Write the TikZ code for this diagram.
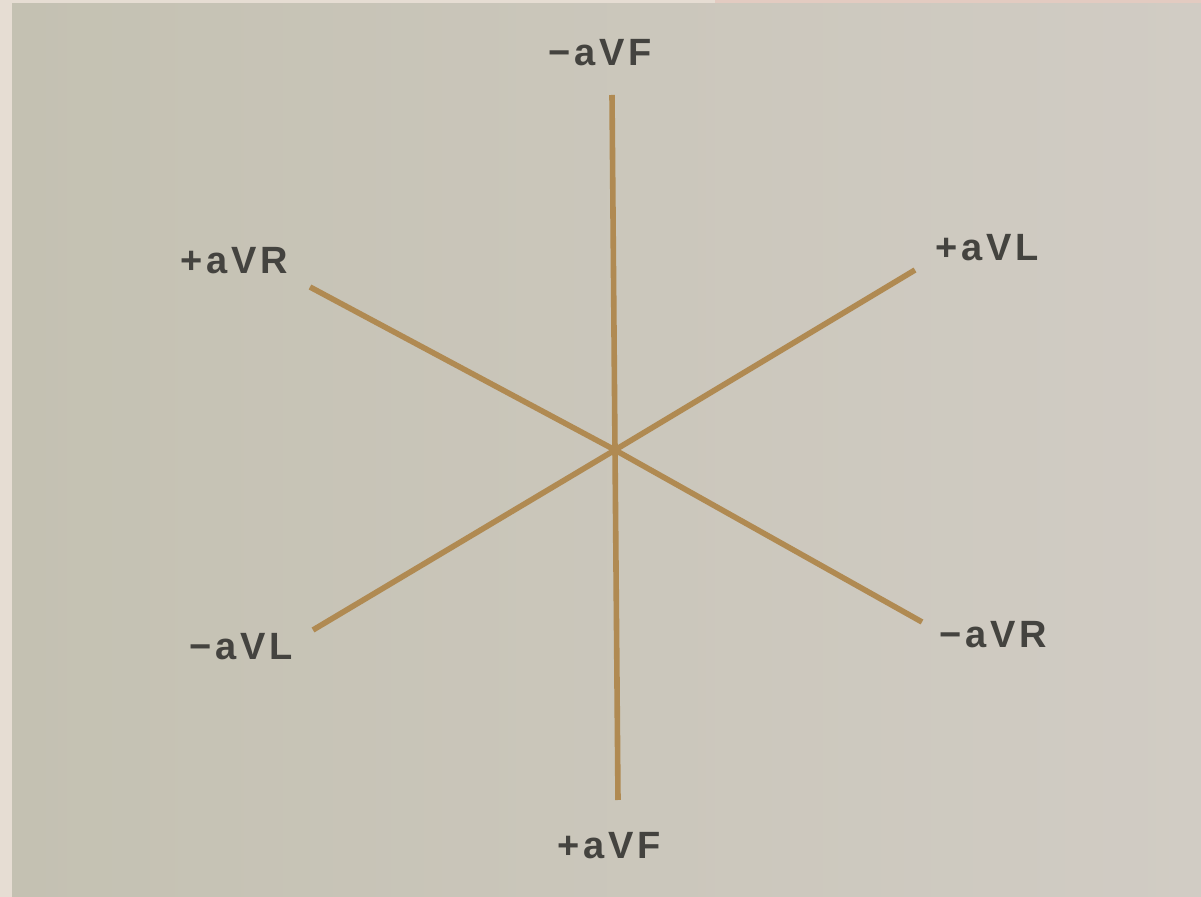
\documentclass[tikz,border=0pt]{standalone}
\usepackage{fontspec}
\setmainfont{Liberation Sans}
\usepackage{tikz}
\definecolor{paper}{HTML}{E6DDD3}
\definecolor{blush}{HTML}{E3CBC1}
\definecolor{photoL}{HTML}{C4C1B2}
\definecolor{photoR}{HTML}{D1CCC4}
\definecolor{lead}{HTML}{B08A52}
\definecolor{ink}{HTML}{44433F}

\begin{document}
\begin{tikzpicture}[x=0.5pt, y=-0.5pt,
        axis/.style={draw=lead, line width=2.8pt},
        leadlbl/.style={text=ink, font=\bfseries\fontsize{19}{22}\selectfont\addfontfeatures{LetterSpace=10}, inner sep=0pt}]
        % Fondo
        \fill[paper] (0,0) rectangle (1201,897);
        \fill[blush] (715,0) rectangle (1201,4);
        \shade[left color=photoL, right color=photoR] (12,4) rectangle (1201,897);
        \useasboundingbox (0,0) rectangle (1201,897);

        % Centro y extremos
        \coordinate (o) at (615,450);
        \coordinate (vfneg) at (612,95);
        \coordinate (vfpos) at (618,800);
        \coordinate (vrpos) at (310,287);
        \coordinate (vrneg) at (922,622);
        \coordinate (vlpos) at (915,270);
        \coordinate (vlneg) at (313,630);

        % Ejes
        \draw[axis] (vfneg) -- (o) -- (vfpos);
        \draw[axis] (vrpos) -- (o) -- (vrneg);
        \draw[axis] (vlneg) -- (o) -- (vlpos);

        % Etiquetas
        \node[leadlbl] (lvfneg) at (600,53) {−aVF};
        \node[leadlbl] (lvfpos) at (609,846) {+aVF};
        \node[leadlbl] (lvrpos) at (234,261) {+aVR};
        \node[leadlbl] (lvrneg) at (993,635) {−aVR};
        \node[leadlbl] (lvlpos) at (987,248) {+aVL};
        \node[leadlbl] (lvlneg) at (241,647) {−aVL};
    \end{tikzpicture}
\end{document}
